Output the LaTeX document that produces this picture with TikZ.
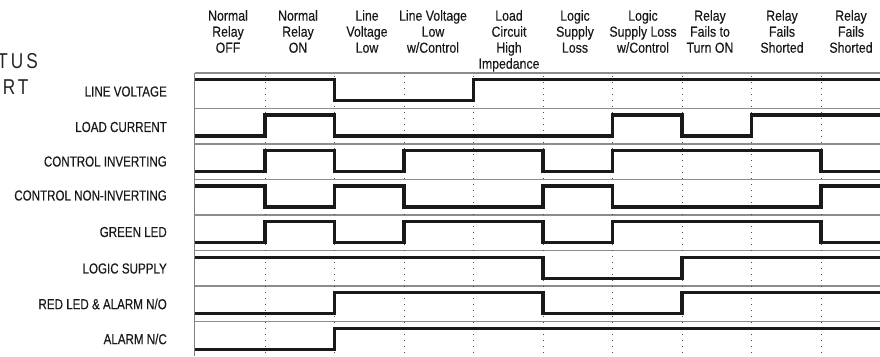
\documentclass[tikz,border=0pt]{standalone}
\usepackage{fontspec}
\setmainfont{Liberation Sans}
\newfontfamily\headfont{Liberation Sans}[FakeStretch=0.85, FakeBold=0.3]
\newfontfamily\labelfont{Liberation Sans}[FakeStretch=0.8, FakeBold=0.3]
\newfontfamily\titlefont{Liberation Sans}[FakeStretch=0.8, LetterSpace=14]

\begin{document}
\begin{tikzpicture}
	[x=1pt, y=-1pt,
	colhead/.style={anchor=north, align=center, inner sep=0, text=black!90, font=\headfont\fontsize{14.5}{16}\selectfont},
	rowlabel/.style={anchor=east, inner sep=0, text=black!90, font=\labelfont\fontsize{14.5}{16}\selectfont},
	rowline/.style={draw=black!45, line width=1.1pt},
	gridline/.style={draw=black!70, line width=0.9pt, dash pattern=on 0.9pt off 5.1pt},
	signal/.style={draw=black!90, line width=3.5pt, line join=miter}]
	\useasboundingbox (0,0) rectangle (880,356);
	\fill[white] (0,0) rectangle (880,356);
	\clip (0,0) rectangle (880,356);

	\node (title) [anchor=north east, align=left, inner sep=0, text=black!85,
		font=\titlefont\fontsize{21.5}{26.7}\selectfont] at (38,53) {STATUS\\CHART};

	\node (relayoff) [colhead] at (228,10) {Normal\\Relay\\OFF};
	\node (relayon) [colhead] at (298,10) {Normal\\Relay\\ON};
	\node (lvlow) [colhead] at (367,10) {Line\\Voltage\\Low};
	\node (lvctrl) [colhead] at (433,10) {Line Voltage\\Low\\w/Control};
	\node (highimp) [colhead] at (509,10) {Load\\Circuit\\High\\Impedance};
	\node (logicloss) [colhead] at (575,10) {Logic\\Supply\\Loss};
	\node (logicctrl) [colhead] at (643,10) {Logic\\Supply Loss\\w/Control};
	\node (failon) [colhead] at (710,10) {Relay\\Fails to\\Turn ON};
	\node (short1) [colhead] at (782,10) {Relay\\Fails\\Shorted};
	\node (short2) [colhead] at (851,10) {Relay\\Fails\\Shorted};

	\node (linevolt) [rowlabel] at (167,91.5) {LINE VOLTAGE};
	\node (loadcur) [rowlabel] at (167,127) {LOAD CURRENT};
	\node (ctrlinv) [rowlabel] at (167,161.5) {CONTROL INVERTING};
	\node (ctrlnoninv) [rowlabel] at (167,195.5) {CONTROL NON-INVERTING};
	\node (greenled) [rowlabel] at (167,232) {GREEN LED};
	\node (logicsup) [rowlabel] at (167,268.5) {LOGIC SUPPLY};
	\node (redled) [rowlabel] at (167,304) {RED LED \& ALARM N/O};
	\node (alarmnc) [rowlabel] at (167,339) {ALARM N/C};

	\foreach \y in {73,108.5,144,179.5,215,250.5,286,321.5}
		\draw[rowline] (194.5,\y) -- (880,\y);
	\draw[draw=black!50, line width=1.5pt] (194.5,73) -- (194.5,356);
	\foreach \x in {265,334.5,404,473.5,543,612.5,682,751.5,821}
		\draw[gridline] (\x,76) -- (\x,356);

	\draw[signal] (194.5,79.5) -| (334.5,100.5) -| (473.5,79.5) -- (880,79.5);
	\draw[signal] (194.5,136) -| (265,115) -| (334.5,136) -| (612.5,115) -| (682,136) -| (751.5,115) -- (880,115);
	\draw[signal] (194.5,171.5) -| (265,150.5) -| (334.5,171.5) -| (404,150.5) -| (543,171.5) -| (612.5,150.5) -| (821,171.5) -- (880,171.5);
	\draw[signal] (194.5,186) -| (265,207) -| (334.5,186) -| (404,207) -| (543,186) -| (612.5,207) -| (821,186) -- (880,186);
	\draw[signal] (194.5,242.5) -| (265,221.5) -| (334.5,242.5) -| (404,221.5) -| (543,242.5) -| (612.5,221.5) -| (821,242.5) -- (880,242.5);
	\draw[signal] (194.5,257.5) -| (543,278.5) -| (682,257.5) -- (880,257.5);
	\draw[signal] (194.5,313.5) -| (334.5,292.5) -| (543,313.5) -| (682,292.5) -- (880,292.5);
	\draw[signal] (194.5,349.5) -| (334.5,328.5) -- (880,328.5);
\end{tikzpicture}
\end{document}
